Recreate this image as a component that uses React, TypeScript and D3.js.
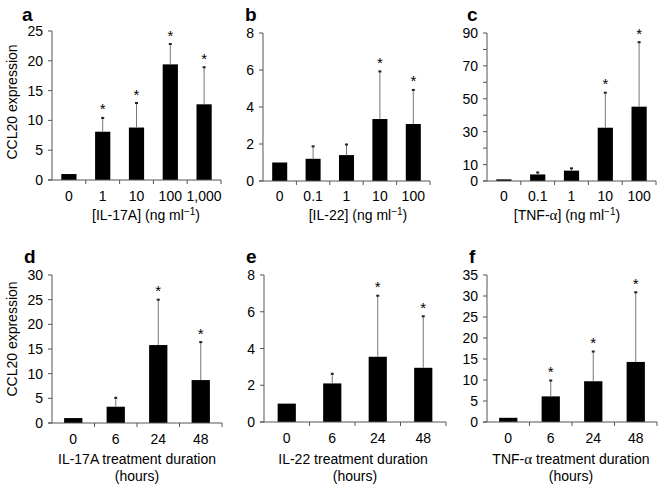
import React from "react";
import * as d3 from "d3";

// ---------- data ----------
const aCategories = ["0", "1", "10", "100", "1,000"];
const aValues = [1, 8.1, 8.8, 19.4, 12.7];
const aErrors = [0, 2.4, 4.2, 3.5, 6.3];
const aStars = [false, true, true, true, true];
const aTicks = [0, 5, 10, 15, 20, 25];
const aTickLabels = ["0", "5", "10", "15", "20", "25"];

const bCategories = ["0", "0.1", "1", "10", "100"];
const bValues = [1, 1.2, 1.4, 3.35, 3.08];
const bErrors = [0, 0.7, 0.6, 2.6, 1.87];
const bStars = [false, false, false, true, true];
const bTicks = [0, 2, 4, 6, 8];
const bTickLabels = ["0", "2", "4", "6", "8"];

const cCategories = ["0", "0.1", "1", "10", "100"];
const cValues = [1, 4, 6.3, 32.4, 45.2];
const cErrors = [0, 1.5, 1.7, 21.6, 39.5];
const cStars = [false, false, false, true, true];
const cTicks = [0, 10, 20, 30, 40, 50, 60, 70, 80, 90];
const cTickLabels = ["0", "10", "", "30", "", "50", "", "70", "", "90"];

const dCategories = ["0", "6", "24", "48"];
const dValues = [1, 3.3, 15.8, 8.7];
const dErrors = [0, 1.9, 9.3, 7.8];
const dStars = [false, false, true, true];
const dTicks = [0, 5, 10, 15, 20, 25, 30];
const dTickLabels = ["0", "5", "10", "15", "20", "25", "30"];

const eCategories = ["0", "6", "24", "48"];
const eValues = [1, 2.1, 3.55, 2.95];
const eErrors = [0, 0.55, 3.35, 2.83];
const eStars = [false, false, true, true];
const eTicks = [0, 2, 4, 6, 8];
const eTickLabels = ["0", "2", "4", "6", "8"];

const fCategories = ["0", "6", "24", "48"];
const fValues = [1, 6.1, 9.7, 14.3];
const fErrors = [0, 3.9, 7.2, 16.7];
const fStars = [false, true, true, true];
const fTicks = [0, 5, 10, 15, 20, 25, 30, 35];
const fTickLabels = ["0", "5", "10", "15", "20", "25", "30", "35"];

const FONT = "'Liberation Sans', Arial, Helvetica, sans-serif";
const AXIS = "#555";

type PanelProps = {
  letter: string;
  letterX: number;
  letterY: number;
  categories: string[];
  values: number[];
  errors: number[];
  stars: boolean[];
  ticks: number[];
  tickLabels: string[];
  left: number;
  right: number;
  top: number;
  bottom: number;
  barFrac: number;
  tickLabelDy: number;
  title: React.ReactNode;
  showYLabel?: boolean;
  yLabelY?: number;
};

function Panel(p: PanelProps) {
  const yMax = p.ticks[p.ticks.length - 1];
  const y = d3.scaleLinear().domain([0, yMax]).range([p.bottom, p.top]);
  const x = d3.scaleBand<string>().domain(p.categories).range([p.left, p.right]).padding(0);
  const bw = x.bandwidth() * p.barFrac;
  const boundaries = p.categories.map((c) => (x(c) as number) + x.bandwidth());
  return (
    <g fontFamily={FONT}>
      <text x={p.letterX} y={p.letterY} fontSize={19} fontWeight="bold" fill="#000">
        {p.letter}
      </text>
      {/* bars */}
      {p.categories.map((c, i) => {
        const cx = (x(c) as number) + x.bandwidth() / 2;
        return (
          <rect
            key={"b" + i}
            x={cx - bw / 2}
            y={y(p.values[i])}
            width={bw}
            height={p.bottom - y(p.values[i])}
            fill="#000"
          />
        );
      })}
      {/* error bars */}
      {p.categories.map((c, i) => {
        if (!p.errors[i]) return null;
        const cx = (x(c) as number) + x.bandwidth() / 2;
        const tip = y(p.values[i] + p.errors[i]);
        return (
          <g key={"e" + i}>
            <line x1={cx} x2={cx} y1={y(p.values[i])} y2={tip} stroke="#777" strokeWidth={1} />
            <line x1={cx - 1.5} x2={cx + 1.5} y1={tip + 0.5} y2={tip + 0.5} stroke="#222" strokeWidth={2} />
          </g>
        );
      })}
      {/* stars */}
      {p.categories.map((c, i) => {
        if (!p.stars[i]) return null;
        const cx = (x(c) as number) + x.bandwidth() / 2;
        const tip = y(p.values[i] + p.errors[i]);
        return (
          <text key={"s" + i} x={cx} y={tip - 3} fontSize={15} textAnchor="middle" fill="#000">
            *
          </text>
        );
      })}
      {/* y axis */}
      <line x1={p.left} x2={p.left} y1={p.top} y2={p.bottom} stroke={AXIS} strokeWidth={1} />
      {p.ticks.map((t, i) => (
        <g key={"yt" + i}>
          <line x1={p.left - 4} x2={p.left} y1={y(t)} y2={y(t)} stroke={AXIS} strokeWidth={1} />
          {p.tickLabels[i] !== "" && (
            <text x={p.left - 9} y={y(t) + 5} fontSize={14} textAnchor="end" fill="#000">
              {p.tickLabels[i]}
            </text>
          )}
        </g>
      ))}
      {/* x axis */}
      <line x1={p.left - 4} x2={p.right} y1={p.bottom} y2={p.bottom} stroke={AXIS} strokeWidth={1} />
      {boundaries.map((bx, i) => (
        <line key={"xt" + i} x1={bx} x2={bx} y1={p.bottom} y2={p.bottom + 4} stroke={AXIS} strokeWidth={1} />
      ))}
      {p.categories.map((c, i) => (
        <text
          key={"xl" + i}
          x={(x(c) as number) + x.bandwidth() / 2}
          y={p.bottom + p.tickLabelDy}
          fontSize={14}
          textAnchor="middle"
          fill="#000"
        >
          {c}
        </text>
      ))}
      {p.title}
      {p.showYLabel && (
        <text
          transform={`translate(17,${p.yLabelY}) rotate(-90)`}
          fontSize={14}
          textAnchor="middle"
          fill="#000"
        >
          CCL20 expression
        </text>
      )}
    </g>
  );
}

function ConcTitle({ x, y, children }: { x: number; y: number; children: React.ReactNode }) {
  return (
    <text x={x} y={y} fontSize={14} textAnchor="middle" fill="#000" fontFamily={FONT}>
      {children}
      <tspan>(ng ml</tspan>
      <tspan fontSize={10} dy={-5}>−1</tspan>
      <tspan dy={5}>)</tspan>
    </text>
  );
}

const Alpha = () => (
  <tspan fontFamily="'Liberation Serif', 'DejaVu Serif', serif" fontSize={15}>α</tspan>
);

export default function App() {
  return (
    <svg width={662} height={490} style={{ position: "absolute", left: 0, top: 0, background: "#fff" }}>
      <rect width={662} height={490} fill="#fff" />
      <Panel
        letter="a" letterX={22} letterY={21}
        categories={aCategories} values={aValues} errors={aErrors} stars={aStars}
        ticks={aTicks} tickLabels={aTickLabels}
        left={52} right={221} top={31} bottom={180} barFrac={0.45} tickLabelDy={21}
        showYLabel yLabelY={102}
        title={<ConcTitle x={146} y={220}>[IL-17A] </ConcTitle>}
      />
      <Panel
        letter="b" letterX={245} letterY={21}
        categories={bCategories} values={bValues} errors={bErrors} stars={bStars}
        ticks={bTicks} tickLabels={bTickLabels}
        left={263} right={430} top={33} bottom={181} barFrac={0.45} tickLabelDy={20}
        title={<ConcTitle x={358} y={220}>[IL-22] </ConcTitle>}
      />
      <Panel
        letter="c" letterX={467} letterY={21}
        categories={cCategories} values={cValues} errors={cErrors} stars={cStars}
        ticks={cTicks} tickLabels={cTickLabels}
        left={487} right={656} top={33} bottom={181} barFrac={0.45} tickLabelDy={20}
        title={<ConcTitle x={567} y={220}>[TNF-<Alpha />] </ConcTitle>}
      />
      <Panel
        letter="d" letterX={24} letterY={263}
        categories={dCategories} values={dValues} errors={dErrors} stars={dStars}
        ticks={dTicks} tickLabels={dTickLabels}
        left={52} right={222} top={275} bottom={423} barFrac={0.43} tickLabelDy={21}
        showYLabel yLabelY={339}
        title={
          <text fontSize={14} textAnchor="middle" fill="#000" fontFamily={FONT}>
            <tspan x={137} y={464}>IL-17A treatment duration</tspan>
            <tspan x={137} y={481}>(hours)</tspan>
          </text>
        }
      />
      <Panel
        letter="e" letterX={246} letterY={263}
        categories={eCategories} values={eValues} errors={eErrors} stars={eStars}
        ticks={eTicks} tickLabels={eTickLabels}
        left={264} right={446} top={275} bottom={422} barFrac={0.4} tickLabelDy={21}
        title={
          <text fontSize={14} textAnchor="middle" fill="#000" fontFamily={FONT}>
            <tspan x={353} y={464}>IL-22 treatment duration</tspan>
            <tspan x={355} y={481}>(hours)</tspan>
          </text>
        }
      />
      <Panel
        letter="f" letterX={469} letterY={263}
        categories={fCategories} values={fValues} errors={fErrors} stars={fStars}
        ticks={fTicks} tickLabels={fTickLabels}
        left={487} right={657} top={275} bottom={422} barFrac={0.43} tickLabelDy={21}
        title={
          <text fontSize={14} textAnchor="middle" fill="#000" fontFamily={FONT}>
            <tspan x={571} y={464}>TNF-<Alpha /> treatment duration</tspan>
            <tspan x={571} y={481}>(hours)</tspan>
          </text>
        }
      />
    </svg>
  );
}
